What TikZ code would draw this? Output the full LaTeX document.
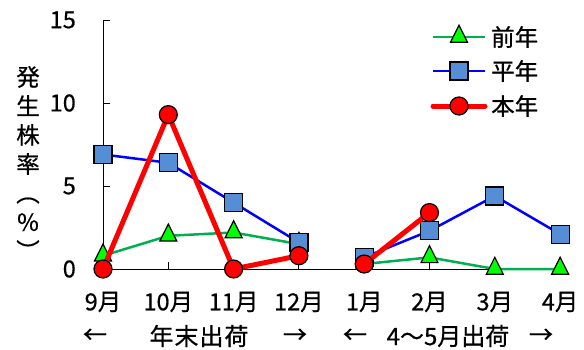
\documentclass[tikz,border=0pt]{standalone}
\usepackage{fontspec}
\setmainfont{Noto Sans CJK JP}[FakeBold=0.6]
\usetikzlibrary{shapes.geometric}
\definecolor{gline}{RGB}{0,176,80}
\definecolor{gfill}{RGB}{0,255,0}
\definecolor{sqfill}{RGB}{85,142,213}
\tikzset{
  axisline/.style={black, line width=1pt},
  gser/.style={gline, line width=2.5pt},
  bser/.style={blue, line width=2.5pt},
  rser/.style={red, line width=5pt},
  trimark/.style={isosceles triangle, isosceles triangle stretches, shape border rotate=90,
     minimum width=17pt, minimum height=17pt, inner sep=0pt, draw=black, line width=1.2pt, fill=gfill},
  sqmark/.style={rectangle, minimum size=18pt, inner sep=0pt, draw=black, line width=1.2pt, fill=sqfill},
  cirmark/.style={circle, minimum size=18pt, inner sep=0pt, draw=black, line width=1.2pt, fill=red},
  lbl/.style={font=\fontsize{23.5}{26}\selectfont, inner sep=0pt},
  blbl/.style={font=\fontsize{24}{26}\selectfont, inner sep=0pt},
}
\begin{document}
\begin{tikzpicture}[x=1pt,y=-1pt]
\useasboundingbox (0,0) rectangle (584,349);
% axes
\coordinate (O) at (103,269);
\coordinate (T) at (103,20);
\coordinate (E) at (560.1,269);
\draw[axisline] (T) -- (O) -- (E);
\foreach \v in {5,10,15} \draw[axisline] (103,{269-16.6*\v}) -- ++(7,0);
\foreach \i in {1,...,7} \draw[axisline] ({103+65.3*\i},269) -- ++(0,-7);
\foreach \v in {0,5,10,15} \node[lbl, anchor=east] (yt\v) at (76,{269-16.6*\v}) {\v};
% month labels
\foreach \i/\m in {0/9月,1/10月,2/11月,3/12月,4/1月,5/2月,6/3月,7/4月}
  \node[lbl] (m\i) at ({103+65.3*\i},302) {\m};
% bottom row
\node[blbl] (la) at (95,336) {←};
\node[blbl] (lb) at (199,336) {年\kern1pt 末\kern1pt 出\kern1pt 荷};
\node[blbl] (lc) at (295,336) {→};
\node[blbl] (ld) at (355,336) {←};
\node[blbl] (le) at (448,336) {4～5月出荷};
\node[blbl] (lf) at (541,336) {→};
% y label
\node[font=\fontsize{23.5}{29}\selectfont, align=center, inner sep=0pt] (ylab) at (28,163) {発\\生\\株\\率\\︵\\\%\\︶};
% data coordinates
\foreach \i/\v in {0/0.8,1/2.0,2/2.2,3/1.5,4/0.3,5/0.7,6/0,7/0}
  \coordinate (g\i) at ({103+65.3*\i},{269-16.6*\v});
\foreach \i/\v in {0/6.9,1/6.4,2/4.0,3/1.6,4/0.7,5/2.3,6/4.4,7/2.1}
  \coordinate (b\i) at ({103+65.3*\i},{269-16.6*\v});
\foreach \i/\v in {0/0,1/9.3,2/0,3/0.8,4/0.3,5/3.4}
  \coordinate (r\i) at ({103+65.3*\i},{269-16.6*\v});
% green series
\draw[gser] (g0) -- (g1) -- (g2) -- (g3);
\draw[gser] (g4) -- (g5) -- (g6) -- (g7);
\foreach \i in {0,...,7} \node[trimark] (gm\i) at (g\i) {};
% blue series
\draw[bser] (b0) -- (b1) -- (b2) -- (b3);
\draw[bser] (b4) -- (b5) -- (b6) -- (b7);
\foreach \i in {0,...,7} \node[sqmark] (bm\i) at (b\i) {};
% red series
\draw[rser, line join=round] (r0) -- (r1) -- (r2) -- (r3);
\draw[rser] (r4) -- (r5);
\foreach \i in {0,...,5} \node[cirmark] (rm\i) at (r\i) {};
% legend
\coordinate (L1a) at (433,37); \coordinate (L1b) at (485,37);
\coordinate (L2a) at (433,71); \coordinate (L2b) at (485,71);
\coordinate (L3a) at (433,106); \coordinate (L3b) at (485,106);
\draw[gser] (L1a) -- (L1b);
\node[trimark] (lg1) at (459,37) {};
\node[lbl, anchor=west] (lt1) at (491,37) {前年};
\draw[bser] (L2a) -- (L2b);
\node[sqmark] (lg2) at (459,71) {};
\node[lbl, anchor=west] (lt2) at (491,71) {平年};
\draw[rser, line cap=round] (L3a) -- (L3b);
\node[cirmark] (lg3) at (459,106) {};
\node[lbl, anchor=west] (lt3) at (491,106) {本年};
\end{tikzpicture}
\end{document}
